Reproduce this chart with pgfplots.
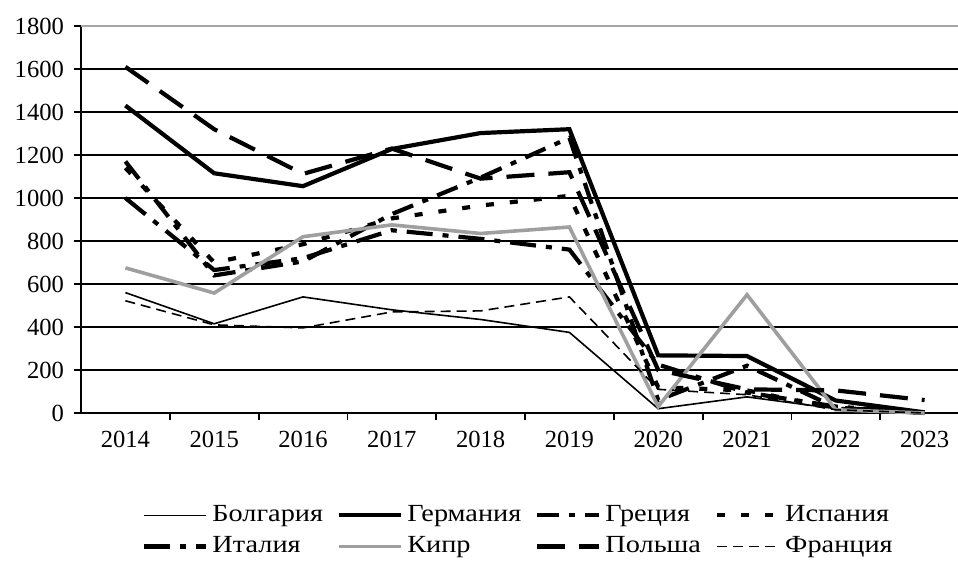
\documentclass[border=0pt]{standalone}
\usepackage{fontspec}
\setmainfont{Liberation Serif}
\newfontfamily\legfont[FakeStretch=1.15]{Liberation Serif}
\usepackage{pgfplots}
\pgfplotsset{compat=1.18}
\begin{document}
\begin{tikzpicture}
\begin{axis}[
  scale only axis,
  width=438.5pt, height=193.5pt,
  xmin=-0.5, xmax=9.376,
  ymin=0, ymax=1800,
  axis lines*=left,
  axis line style={black, line width=0.9pt},
  ytick={0,200,...,1800},
  ymajorgrids,
  grid style={black, line width=0.9pt},
  tick align=outside,
  ytick pos=left,
  major tick length=3.5pt,
  y tick style={black, line width=0.9pt},
  xtick={0.5,1.5,...,8.5},
  xticklabels={},
  x tick style={black, line width=0.9pt},
  xtick pos=bottom,
  extra x ticks={0,1,2,3,4,5,6,7,8,9},
  extra x tick labels={2014,2015,2016,2017,2018,2019,2020,2021,2022,2023},
  extra x tick style={grid=none, major tick length=0pt, tick style={draw=none}, xticklabel style={yshift=-5.5pt}},
  ticklabel style={font=\fontsize{12.3}{14}\selectfont},
  yticklabel style={xshift=-1.5pt},
  /pgf/number format/assume math mode=true,
  /pgf/number format/1000 sep={},
  clip=false,
  legend columns=4,
  legend cell align=left,
  legend style={at={(0.5,-0.218)}, anchor=north, draw=none, fill=none,
    font=\legfont\fontsize{12.3}{14}\selectfont, row sep=2pt,
    /tikz/every even column/.append style={column sep=5pt}},
  legend image code/.code={\draw[#1] (0pt,0pt) -- (31pt,0pt);},
]
\addplot[black, line width=0.8pt] coordinates {(0,560) (1,415) (2,540) (3,480) (4,435) (5,375) (6,20) (7,75) (8,20) (9,0)};
\addlegendentry{Болгария}
\addplot[black, line width=2.1pt] coordinates {(0,1430) (1,1115) (2,1055) (3,1228) (4,1302) (5,1320) (6,268) (7,265) (8,58) (9,3)};
\addlegendentry{Германия}
\addplot[black, line width=2.1pt, dash pattern=on 11pt off 5pt on 3pt off 5pt] coordinates {(0,1170) (1,640) (2,705) (3,925) (4,1095) (5,1280) (6,60) (7,220) (8,25) (9,0)};
\addlegendentry{Греция}
\addplot[black, line width=2.1pt, dash pattern=on 4pt off 8pt] coordinates {(0,1140) (1,700) (2,785) (3,905) (4,965) (5,1010) (6,120) (7,105) (8,20) (9,0)};
\addlegendentry{Испания}
\addplot[black, line width=2.1pt, dash pattern=on 13pt off 5pt on 3pt off 5pt] coordinates {(0,1000) (1,665) (2,720) (3,850) (4,810) (5,760) (6,225) (7,95) (8,30) (9,0)};
\addlegendentry{Италия}
\addplot[gray!75, line width=1.8pt] coordinates {(0,675) (1,558) (2,820) (3,875) (4,835) (5,865) (6,30) (7,550) (8,15) (9,0)};
\addlegendentry{Кипр}
\addplot[black, line width=2.1pt, dash pattern=on 14pt off 7pt] coordinates {(0,1610) (1,1320) (2,1112) (3,1230) (4,1090) (5,1120) (6,200) (7,110) (8,105) (9,60)};
\addlegendentry{Польша}
\addplot[black, line width=0.8pt, dash pattern=on 5pt off 3pt] coordinates {(0,522) (1,410) (2,396) (3,470) (4,475) (5,540) (6,110) (7,85) (8,15) (9,0)};
\addlegendentry{Франция}
\draw[gray!70, line width=1pt] (rel axis cs:0,1) -- (rel axis cs:1,1);
\end{axis}
\pgfresetboundingbox
\path[use as bounding box] (current axis.south west) ++(-40.5pt,-75pt) rectangle ++(479pt,281.5pt);
\end{tikzpicture}
\end{document}
